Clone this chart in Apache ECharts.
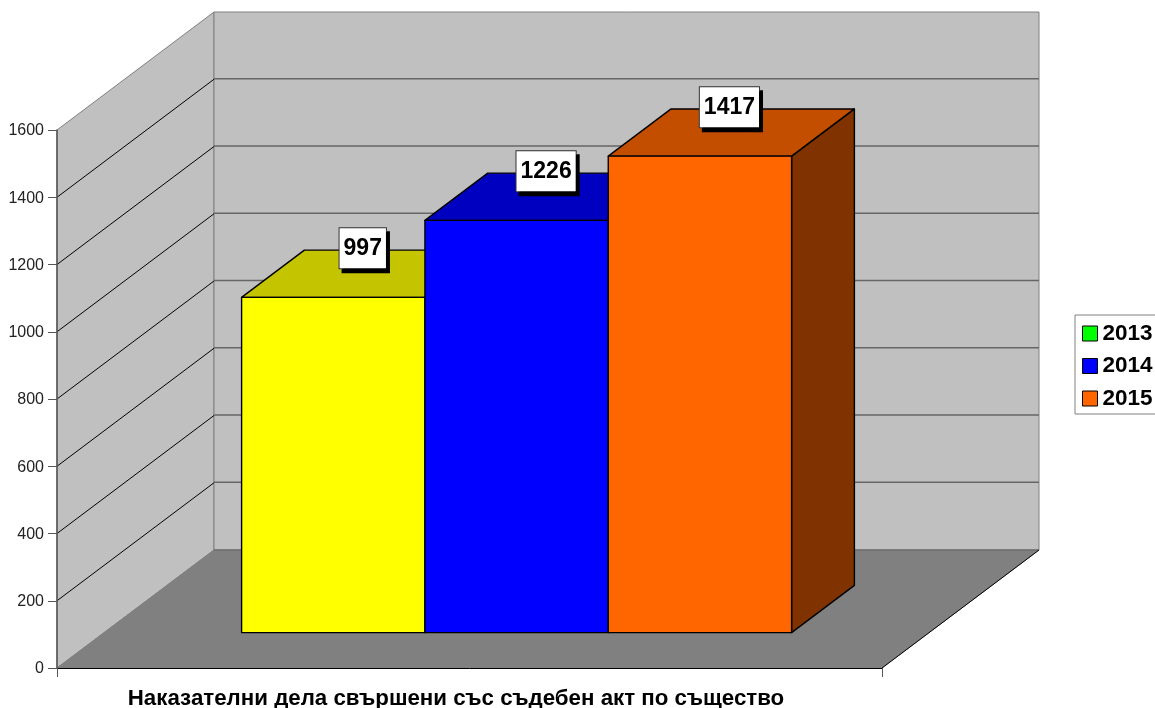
<!DOCTYPE html>
<html>
<head>
<meta charset="utf-8">
<style>
  html, body { margin: 0; padding: 0; background: #fff; overflow: hidden; }
  #chart { width: 1155px; height: 708px; }
</style>
<script src="https://cdn.jsdelivr.net/npm/echarts@6/dist/echarts.min.js"></script>
</head>
<body>
<div id="chart"></div>
<script>
const categories = ['Наказателни дела свършени със съдебен акт по същество']
const seriesNames = ['2013', '2014', '2015']
const seriesValues = [997, 1226, 1417]
const wallTicks = [200, 400, 600, 800, 1000, 1200, 1400]
const yMax = 1600

const FONT = '"Liberation Sans", Arial, sans-serif'
// pseudo 3d: how far the back wall is moved from the front plane, in px
const DEPTH_X = 157
const DEPTH_Y = -118
const BAR_FRONT = 0.3
const BAR_DEPTH = 0.4
const faceColors = ['#ffff00', '#0000ff', '#ff6600']
const topColors = ['#c4c400', '#0000c0', '#c44e00']
const sideColors = ['#808000', '#000080', '#803300']
const legendColors = ['#00ff00', '#0000ff', '#ff6600']

function back(p, k) {
  return [p[0] + DEPTH_X * k, p[1] + DEPTH_Y * k]
}

function renderWalls(params, api) {
  const bw = api.size([1, 0])[0]
  const c0 = api.coord([0, 0])
  const c1 = api.coord([0, yMax])
  const x0 = c0[0] - bw / 2
  const x1 = c0[0] + bw / 2
  const fl = [x0, c0[1]]
  const tl = [x0, c1[1]]
  const fr = [x1, c0[1]]
  const poly = (points, fill, stroke, lineWidth) => ({
    type: 'polygon',
    shape: { points },
    style: { fill, stroke, lineWidth },
  })
  return {
    type: 'group',
    children: [
      poly([fl, tl, back(tl, 1), back(fl, 1)], '#c0c0c0', '#808080', 1),
      poly([back(tl, 1), back([x1, c1[1]], 1), back(fr, 1), back(fl, 1)], '#c0c0c0', '#808080', 1),
      poly([fl, fr, back(fr, 1), back(fl, 1)], '#808080', '#808080', 1),
      { type: 'line', shape: { x1: back(fl, 1)[0], y1: back(fl, 1)[1], x2: back(fr, 1)[0], y2: back(fr, 1)[1] }, style: { stroke: '#666', lineWidth: 1 } },
      { type: 'line', shape: { x1: fr[0], y1: fr[1], x2: back(fr, 1)[0], y2: back(fr, 1)[1] }, style: { stroke: '#000', lineWidth: 1 } },
    ],
  }
}

function renderWallLine(params, api) {
  const bw = api.size([1, 0])[0]
  const c = api.coord([0, api.value(1)])
  const left = [c[0] - bw / 2, c[1]]
  const b0 = back(left, 1)
  return {
    type: 'group',
    children: [
      { type: 'line', shape: { x1: left[0], y1: left[1], x2: b0[0], y2: b0[1] }, style: { stroke: '#000', lineWidth: 1 } },
      { type: 'line', shape: { x1: b0[0], y1: b0[1] - 0.5, x2: b0[0] + bw, y2: b0[1] - 0.5 }, style: { stroke: '#666', lineWidth: 1.3 } },
    ],
  }
}

function renderBar(i) {
  return function (params, api) {
    const bw = api.size([1, 0])[0]
    const w = (bw * 2) / 9
    const base = api.coord([0, 0])
    const top = api.coord([0, api.value(1)])
    const left = base[0] - bw / 2 + bw / 6 + i * w
    const bl = back([left, base[1]], BAR_FRONT)
    const tl = back([left, top[1]], BAR_FRONT)
    const br = [bl[0] + w, bl[1]]
    const tr = [tl[0] + w, tl[1]]
    const edge = { stroke: '#000', lineWidth: 1.4, lineJoin: 'round' }
    return {
      type: 'group',
      children: [
        {
          type: 'polygon',
          shape: { points: [tr, back(tr, BAR_DEPTH), back(br, BAR_DEPTH), br] },
          style: { fill: sideColors[i], ...edge },
        },
        {
          type: 'polygon',
          shape: { points: [tl, tr, back(tr, BAR_DEPTH), back(tl, BAR_DEPTH)] },
          style: { fill: topColors[i], ...edge },
        },
        {
          type: 'rect',
          shape: { x: bl[0], y: tl[1], width: w, height: bl[1] - tl[1] },
          style: { fill: faceColors[i], ...edge },
        },
      ],
    }
  }
}

// value boxes have to stay above all the bars so they get their own series
function renderValueBox(params, api) {
  const i = params.dataIndex
  const bw = api.size([1, 0])[0]
  const w = (bw * 2) / 9
  const base = api.coord([0, 0])
  const top = api.coord([0, api.value(1)])
  const left = base[0] - bw / 2 + bw / 6 + i * w
  const tl = back([left, top[1]], BAR_FRONT)
  return {
    type: 'text',
    x: tl[0] + w / 2 + 29.5,
    y: tl[1] - 69,
    style: {
      text: String(api.value(1)),
      font: 'bold 23px ' + FONT,
      fill: '#000',
      align: 'center',
      verticalAlign: 'top',
      lineHeight: 23,
      padding: [9, 4, 8, 4],
      backgroundColor: '#fff',
      borderColor: '#333',
      borderWidth: 1,
      shadowColor: '#000',
      shadowBlur: 0,
      shadowOffsetX: 3,
      shadowOffsetY: 4,
    },
  }
}

const chart = echarts.init(document.getElementById('chart'))

const option = {
  animation: false,
  backgroundColor: '#fff',
  textStyle: { fontFamily: FONT },
  // v6 shrinks the grid to fit labels otherwise
  grid: { left: 57, right: 273, top: 130, bottom: 40, outerBoundsMode: 'none' },
  legend: {
    left: 1075,
    top: 315,
    orient: 'vertical',
    icon: 'rect',
    itemWidth: 15,
    itemHeight: 15,
    itemGap: 9.5,
    padding: [7, 30, 4, 7],
    borderColor: '#808080',
    borderWidth: 1,
    backgroundColor: '#fff',
    textStyle: { fontFamily: FONT, fontSize: 22.5, fontWeight: 'bold', color: '#000' },
    data: seriesNames.map((name, i) => ({
      name,
      itemStyle: { color: legendColors[i], borderColor: '#000', borderWidth: 1 },
    })),
  },
  xAxis: {
    type: 'category',
    data: categories,
    z: 3,
    axisLine: { lineStyle: { color: '#000', width: 1 } },
    axisTick: { show: true, interval: 0, alignWithLabel: false, length: 9, lineStyle: { color: '#555' } },
    axisLabel: {
      interval: 0,
      margin: 20,
      fontFamily: FONT,
      fontSize: 22.3,
      fontWeight: 'bold',
      color: '#000',
      padding: [0, 27, 0, 0],
    },
  },
  yAxis: {
    type: 'value',
    min: 0,
    max: yMax,
    interval: 200,
    z: 3,
    splitLine: { show: false },
    axisLine: { show: true, lineStyle: { color: '#555', width: 1.5 } },
    axisTick: { show: true, length: 9, lineStyle: { color: '#555' } },
    axisLabel: {
      margin: 13,
      fontFamily: FONT,
      fontSize: 16,
      color: '#222',
      verticalAlign: 'top',
      lineHeight: 16,
      padding: [-7, 0, 0, 0],
      formatter: (v) => String(v),
    },
  },
  series: [
    {
      type: 'custom',
      silent: true,
      clip: false,
      renderItem: renderWalls,
      data: [[0, 0]],
      encode: { x: 0, y: 1 },
    },
    {
      type: 'custom',
      silent: true,
      clip: false,
      renderItem: renderWallLine,
      data: wallTicks.map((v) => [0, v]),
      encode: { x: 0, y: 1 },
    },
    ...seriesNames.map((name, i) => ({
      type: 'custom',
      name,
      clip: false,
      renderItem: renderBar(i),
      itemStyle: { color: faceColors[i] },
      data: [[0, seriesValues[i]]],
      encode: { x: 0, y: 1 },
    })),
    {
      type: 'custom',
      silent: true,
      clip: false,
      renderItem: renderValueBox,
      data: seriesValues.map((v) => [0, v]),
      encode: { x: 0, y: 1 },
    },
  ],
}

chart.setOption(option)
</script>
</body>
</html>
